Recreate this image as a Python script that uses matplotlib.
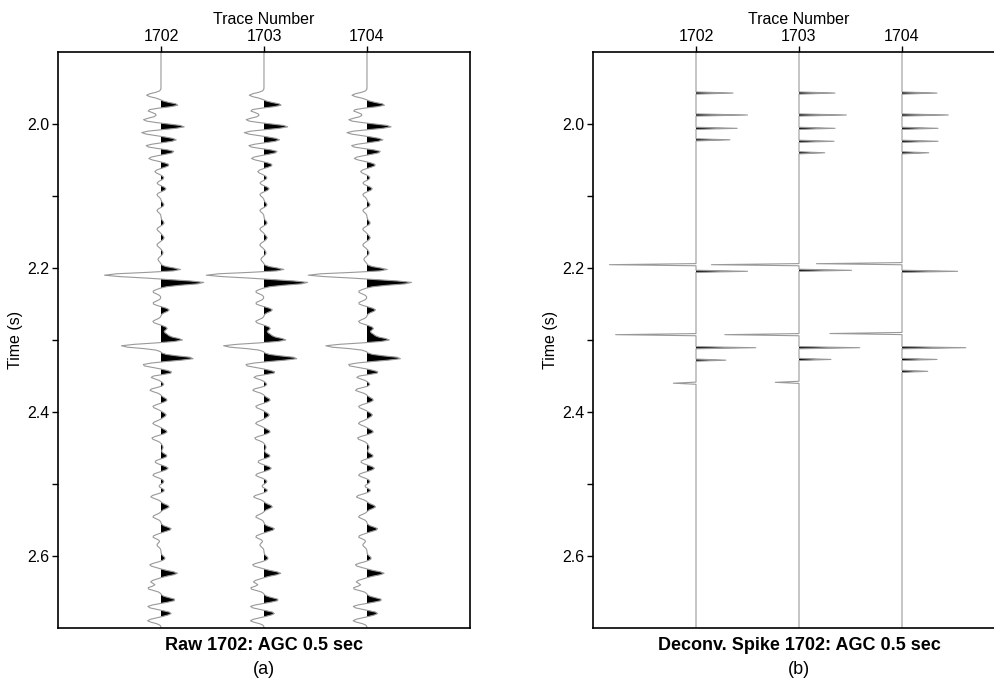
import matplotlib
matplotlib.use("Agg")
import matplotlib.pyplot as plt
import numpy as np

plt.rcParams["font.family"] = ["Liberation Sans", "DejaVu Sans"]

# ---------------------------------------------------------------------------
# Data
# ---------------------------------------------------------------------------
TRACES = [1702, 1703, 1704]
TRACE_LABELS = ["1702", "1703", "1704"]
Y_TICKS = [2.0, 2.2, 2.4, 2.6]
Y_MINOR = [2.1, 2.3, 2.5]

# (a) raw trace: times (s) of peaks/troughs and their amplitude
# in units of trace spacing (positive = to the right)
RAW_TIMES = [1.960, 1.9736, 1.981, 1.9875, 1.9944, 2.0037, 2.012, 2.022, 2.0305,
             2.0385, 2.0477, 2.057, 2.066, 2.075, 2.082, 2.090, 2.098, 2.1125,
             2.120, 2.1375, 2.146, 2.158, 2.168, 2.179, 2.188, 2.2028, 2.2097,
             2.2204, 2.2329, 2.249, 2.2583, 2.2745, 2.2838, 2.293, 2.300, 2.3083,
             2.3254, 2.3347, 2.3454, 2.351, 2.3625, 2.3694, 2.3833, 2.3926, 2.4042,
             2.4157, 2.4274, 2.4365, 2.449, 2.4611, 2.469, 2.4782, 2.4875, 2.4968,
             2.5037, 2.5083, 2.5176, 2.5315, 2.5454, 2.5625, 2.5732, 2.5847, 2.6032,
             2.6125, 2.624, 2.6357, 2.6449, 2.661, 2.6704, 2.6796, 2.6898]
RAW_AMPS = [-0.14, 0.17, -0.13, -0.03, -0.17, 0.23, -0.19, 0.15, -0.15,
            0.13, -0.12, 0.08, -0.06, 0.03, -0.04, 0.05, -0.04, 0.03,
            -0.04, 0.03, -0.04, 0.03, -0.04, 0.02, -0.03, 0.21, -0.56,
            0.42, -0.08, -0.08, 0.08, -0.08, 0.06, 0.06, 0.21, -0.39,
            0.32, -0.18, 0.12, -0.11, 0.03, -0.11, 0.06, -0.08, 0.05,
            -0.08, 0.06, -0.09, 0.02, 0.06, -0.06, 0.07, -0.08, 0.03,
            -0.03, 0.04, -0.10, 0.08, -0.08, 0.10, -0.08, -0.04, 0.04,
            -0.11, 0.16, -0.10, -0.13, 0.14, -0.13, 0.10, -0.13]
RAW_GAIN = [1.00, 1.02, 1.04]

# (b) deconvolved spikes per trace
SPIKE_1702_T = [1.957, 1.9875, 2.006, 2.022, 2.1954, 2.2046, 2.2926, 2.3107, 2.328, 2.360]
SPIKE_1702_A = [0.36, 0.50, 0.40, 0.33, -0.84, 0.50, -0.78, 0.58, 0.29, -0.22]
SPIKE_1703_T = [1.957, 1.9875, 2.006, 2.024, 2.040, 2.1954, 2.2032, 2.2926, 2.3107, 2.327, 2.3588]
SPIKE_1703_A = [0.35, 0.46, 0.35, 0.34, 0.25, -0.85, 0.51, -0.72, 0.59, 0.31, -0.23]
SPIKE_1704_T = [1.957, 1.9875, 2.006, 2.024, 2.040, 2.194, 2.2046, 2.291, 2.3107, 2.327, 2.3435]
SPIKE_1704_A = [0.34, 0.45, 0.35, 0.35, 0.26, -0.83, 0.54, -0.70, 0.62, 0.34, 0.25]

T_MIN, T_MAX = 1.9, 2.7
LINE_GRAY = "#999999"


def raw_trace(t, gain):
    # render the picked extrema as narrow pulses on a 2 ms grid
    tr = np.zeros_like(t)
    for ti, ai in zip(RAW_TIMES, RAW_AMPS):
        tr += gain * ai * np.exp(-0.5 * ((t - ti) / 0.0028) ** 2)
    return tr


def spike_trace(times, amps, half=0.0015):
    t = [T_MIN]
    x = [0.0]
    for ti, ai in sorted(zip(times, amps)):
        t += [ti - half, ti, ti + half]
        x += [0.0, ai, 0.0]
    t.append(T_MAX)
    x.append(0.0)
    return np.array(t), np.array(x)


def style_axes(ax):
    ax.set_xlim(1701, 1705)
    ax.set_ylim(T_MAX, T_MIN)
    ax.xaxis.tick_top()
    ax.xaxis.set_label_position("top")
    ax.set_xticks(TRACES)
    ax.set_xticklabels(TRACE_LABELS)
    ax.set_xlabel("Trace Number", fontsize=11.5, labelpad=3)
    ax.set_yticks(Y_TICKS)
    ax.set_yticklabels([f"{v:.1f}" for v in Y_TICKS])
    ax.set_yticks(Y_MINOR, minor=True)
    ax.set_ylabel("Time (s)", fontsize=11.5, labelpad=3)
    ax.tick_params(axis="both", which="both", direction="out", length=4,
                   width=1.0, labelsize=11.5, pad=2)
    for sp in ax.spines.values():
        sp.set_linewidth(1.2)


fig = plt.figure(figsize=(9.95, 6.85), dpi=100)
ax_a = fig.add_axes([58 / 995, 1 - 628 / 685, 412 / 995, 576 / 685])
ax_b = fig.add_axes([593 / 995, 1 - 628 / 685, 412 / 995, 576 / 685])

# (a) raw wiggle traces with black variable-area fill
t = np.arange(T_MIN, T_MAX + 1e-9, 0.002)
for base, gain in zip(TRACES, RAW_GAIN):
    tr = raw_trace(t, gain)
    ax_a.fill_betweenx(t, base, base + tr, where=tr > 0, interpolate=True,
                       color="black", lw=0)
    ax_a.plot(base + tr, t, color=LINE_GRAY, lw=0.8)

# (b) deconvolved spikes
spikes = [(SPIKE_1702_T, SPIKE_1702_A), (SPIKE_1703_T, SPIKE_1703_A),
          (SPIKE_1704_T, SPIKE_1704_A)]
for base, (st, sa) in zip(TRACES, spikes):
    ts, xs = spike_trace(st, sa)
    ax_b.fill_betweenx(ts, base, base + xs, where=xs > 0, interpolate=True,
                       color="black", lw=0)
    ax_b.plot(base + xs, ts, color=LINE_GRAY, lw=0.8)

style_axes(ax_a)
style_axes(ax_b)

fig.text(264 / 995, 1 - 646 / 685, "Raw 1702: AGC 0.5 sec", ha="center",
         va="center", fontsize=13, fontweight="bold")
fig.text(264 / 995, 1 - 669 / 685, "(a)", ha="center", va="center", fontsize=13)
fig.text(799 / 995, 1 - 646 / 685, "Deconv. Spike 1702: AGC 0.5 sec", ha="center",
         va="center", fontsize=13, fontweight="bold")
fig.text(799 / 995, 1 - 669 / 685, "(b)", ha="center", va="center", fontsize=13)

fig.savefig("out.png", dpi=100)
